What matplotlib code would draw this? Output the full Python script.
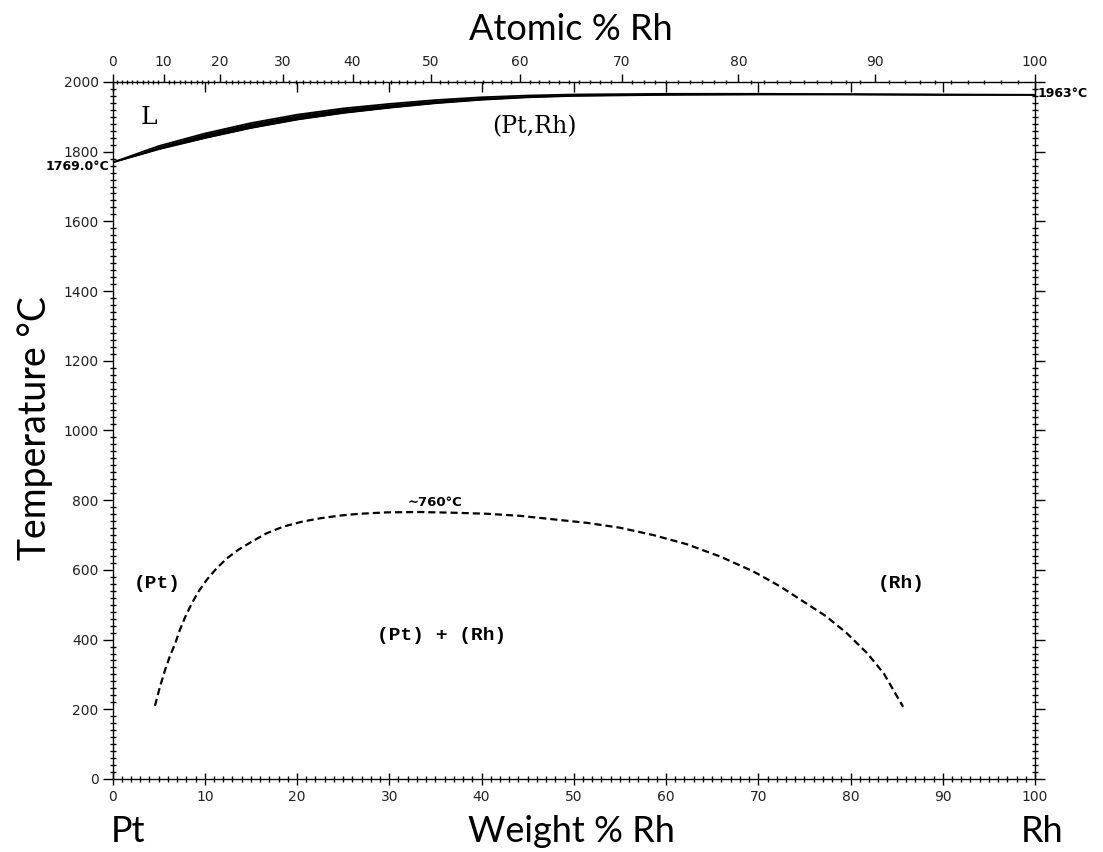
#importing packages
import numpy as np
import matplotlib
matplotlib.use("Agg")
import matplotlib.pyplot as plt
from matplotlib.ticker import MultipleLocator

#data (weight % Rh, temperature in C)
liq_wt = [0, 5, 10, 15, 20, 25, 30, 35, 40, 45, 50, 60, 70, 80, 90, 100]
liq_T = [1769, 1816, 1852, 1882, 1906, 1924, 1937, 1948, 1956, 1961, 1964, 1966, 1966, 1965, 1964, 1963]
sol_T = [1769, 1807, 1839, 1868, 1892, 1911, 1926, 1939, 1949, 1956, 1960, 1963, 1964, 1964, 1963, 1963]

#miscibility gap (dashed)
gap_wt = [4.6, 5.15, 5.7, 6.2, 6.8, 7.3, 7.9, 8.6, 9.3, 10.2, 11.3, 12.4, 13.6, 15.1, 16.7, 18.5,
          20.5, 22.5, 24.7, 26.8, 29.7, 33.3, 36.9, 40.6, 44.2, 47.8, 51.4, 55.0, 58.6, 62.2, 65.9,
          69.5, 72.4, 74.9, 77.4, 79.6, 81.8, 83.6, 85.7]
gap_T = [210, 265, 313, 351, 389, 428, 466, 504, 537, 571, 605, 633, 657, 681, 705, 724,
         738, 748, 756, 761, 765, 766, 764, 761, 755, 745, 735, 721, 700, 674, 638,
         595, 552, 509, 466, 418, 361, 303, 207]

#molar masses for the atomic % scale
M_Pt = 195.08
M_Rh = 102.91

def wt_to_at(w):
    w = np.clip(np.asarray(w, dtype=float), 1e-9, 100 - 1e-9)
    return 100*(w/M_Rh)/(w/M_Rh + (100 - w)/M_Pt)

def at_to_wt(a):
    a = np.clip(np.asarray(a, dtype=float), 1e-9, 100 - 1e-9)
    return 100*(a*M_Rh)/(a*M_Rh + (100 - a)*M_Pt)

fig = plt.figure(figsize=(11.03, 8.52), dpi=100)
ax = fig.add_axes([0.102, 0.0857, 0.8364, 0.8181])

#liquidus / solidus band
ax.fill_between(liq_wt, sol_T, liq_T, color='black', lw=0)
ax.plot(liq_wt, liq_T, 'k-', lw=1.3)
ax.plot(liq_wt, sol_T, 'k-', lw=1.3)

#miscibility gap
ax.plot(gap_wt, gap_T, 'k--', lw=1.6, dashes=(3.2, 1.8))

ax.set_xlim(0, 100)
ax.set_ylim(0, 2000)

for s in ax.spines.values():
    s.set_linewidth(1.0)

#bottom / left ticks
ax.xaxis.set_major_locator(MultipleLocator(10))
ax.xaxis.set_minor_locator(MultipleLocator(1))
ax.yaxis.set_major_locator(MultipleLocator(200))
ax.yaxis.set_minor_locator(MultipleLocator(20))
ax.tick_params(axis='x', which='major', direction='inout', length=8, width=1, labelsize=10, pad=4)
ax.tick_params(axis='x', which='minor', direction='inout', length=4, width=1)
ax.tick_params(axis='y', which='major', direction='out', length=7, width=1, labelsize=10, pad=3,
               right=True)
ax.tick_params(axis='y', which='minor', direction='inout', length=4, width=1, right=True)
for lab in ax.get_xticklabels() + ax.get_yticklabels():
    lab.set_color('#222222')

#weight % ticks pointing down from the top spine
topw = ax.secondary_xaxis('top')
topw.xaxis.set_major_locator(MultipleLocator(10))
topw.tick_params(axis='x', which='major', direction='in', length=7, width=1, labeltop=False)
topw.spines['top'].set_visible(False)

#atomic % scale on top
topa = ax.secondary_xaxis('top', functions=(wt_to_at, at_to_wt))
topa.set_xticks(np.arange(0, 101, 10))
topa.xaxis.set_minor_locator(MultipleLocator(1))
topa.tick_params(axis='x', which='major', direction='out', length=6, width=1, labelsize=10, pad=3,
                 labelcolor='#222222')
topa.tick_params(axis='x', which='minor', direction='inout', length=3.5, width=1)
topa.spines['top'].set_visible(False)

#labels inside the diagram
ax.text(4.0, 1899, 'L', family='DejaVu Serif', fontsize=18, ha='center', va='center')
ax.text(45.7, 1871, '(Pt,Rh)', family='DejaVu Serif', fontsize=17, ha='center', va='center')
ax.text(4.9, 561, '(Pt)', family='Liberation Mono', fontweight='bold', fontsize=14, ha='center', va='center')
ax.text(85.5, 561, '(Rh)', family='Liberation Mono', fontweight='bold', fontsize=14, ha='center', va='center')
ax.text(35.7, 411, '(Pt) + (Rh)', family='Liberation Mono', fontweight='bold', fontsize=14,
        ha='center', va='center')
ax.text(35.0, 793, '~760°C', fontsize=9.5, fontweight='bold', ha='center', va='center')
ax.text(-0.3, 1757, '1769.0°C', fontsize=9, fontweight='bold', ha='right', va='center', clip_on=False)
ax.text(100.3, 1966, '1963°C', fontsize=9, fontweight='bold', ha='left', va='center', clip_on=False)

#big axis titles
big = dict(family=['Lato', 'DejaVu Sans'], fontsize=26)
fig.text(571/1103, 1 - 30/852, 'Atomic % Rh', ha='center', va='center', **big)
fig.text(571/1103, 1 - 832/852, 'Weight % Rh', ha='center', va='center', **big)
fig.text(128/1103, 1 - 832/852, 'Pt', ha='center', va='center', **big)
fig.text(1042/1103, 1 - 832/852, 'Rh', ha='center', va='center', **big)
fig.text(35/1103, 1 - 428/852, 'Temperature °C', ha='center', va='center', rotation=90,
         family=['Lato', 'DejaVu Sans'], fontsize=27)

fig.savefig('out.png', dpi=100)
